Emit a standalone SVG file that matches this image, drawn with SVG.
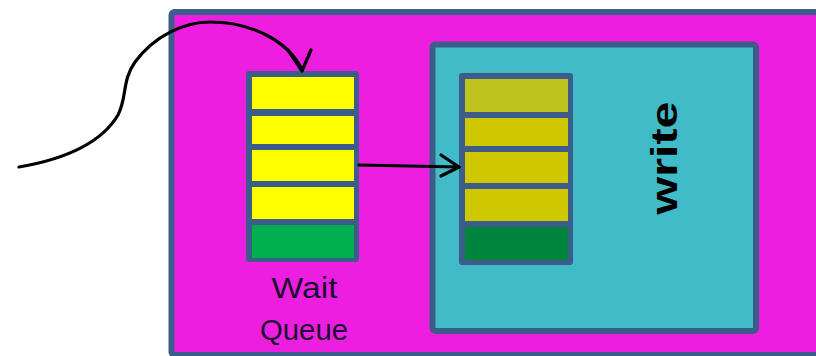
<svg xmlns="http://www.w3.org/2000/svg" width="816" height="356" viewBox="0 0 816 356">
  <defs>
    <style>
      .frame { stroke: #3c5d89; stroke-width: 6; stroke-linejoin: round; }
      .stack { fill: #3c5d89; }
      .wire { fill: none; stroke: #000; stroke-width: 3.2; stroke-linecap: round; stroke-linejoin: round; }
      .label { font-family: "Liberation Sans", Arial, sans-serif; fill: #1c1030; }
      .title { font-family: "Liberation Sans", Arial, sans-serif; fill: #000; font-weight: bold; }
    </style>
  </defs>

  <rect width="816" height="356" fill="#ffffff"/>

  <!-- process area -->
  <g id="process">
    <rect class="frame" x="171.5" y="12" width="700" height="343" rx="3" fill="#ee1ee0"/>
  </g>

  <!-- write handler -->
  <g id="write">
    <rect class="frame" x="432.5" y="44.5" width="323.5" height="286.5" rx="3" fill="#42bbc8"/>
    <text class="title" transform="translate(677,158) rotate(-90)" text-anchor="middle" font-size="37" textLength="113" lengthAdjust="spacingAndGlyphs">write</text>
  </g>

  <!-- wait queue -->
  <g id="wait-queue">
    <rect class="stack" x="246" y="71" width="113" height="191" rx="3"/>
    <rect x="252" y="77" width="102" height="32" fill="#ffff00"/>
    <rect x="252" y="116" width="102" height="28" fill="#ffff00"/>
    <rect x="252" y="150" width="102" height="31" fill="#ffff00"/>
    <rect x="252" y="187" width="102" height="32" fill="#ffff00"/>
    <rect x="252" y="225" width="102" height="33" fill="#00b050"/>
    <text class="label" x="304.5" y="298" text-anchor="middle" font-size="29" textLength="66" lengthAdjust="spacingAndGlyphs">Wait</text>
    <text class="label" x="304" y="340" text-anchor="middle" font-size="29" textLength="88" lengthAdjust="spacingAndGlyphs">Queue</text>
  </g>

  <!-- queue inside write -->
  <g id="write-queue">
    <rect class="stack" x="459" y="73" width="114" height="192" rx="3"/>
    <rect x="465" y="79" width="103" height="33" fill="#c0c41f"/>
    <rect x="465" y="118" width="103" height="28" fill="#cfc800"/>
    <rect x="465" y="152" width="103" height="31" fill="#cfc800"/>
    <rect x="465" y="189" width="103" height="32" fill="#cfc800"/>
    <rect x="465" y="227" width="103" height="33" fill="#00853d"/>
  </g>

  <!-- connectors -->
  <g id="connectors">
    <path class="wire" d="M19,167 C60,160 100,145 118,115 C127,98 122,80 135,62 C155,35 185,22 210,22 C250,22 288,40 302,70"/>
    <path class="wire" d="M288,50 L302,71 L311,50"/>
    <path class="wire" d="M359,165 L459,167"/>
    <path class="wire" d="M441,155 L459,167 L441,176"/>
  </g>
</svg>
